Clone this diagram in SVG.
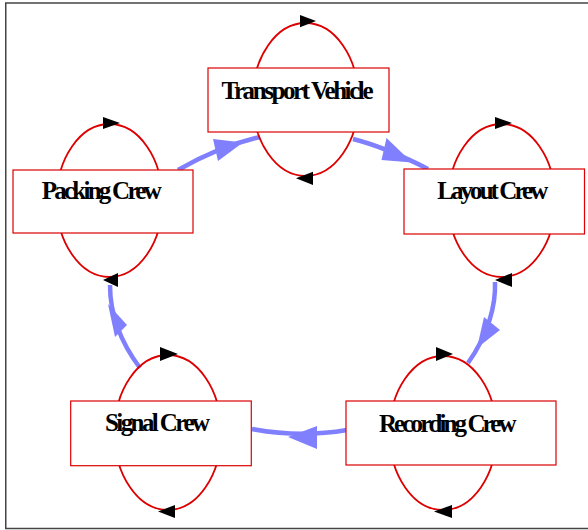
<svg xmlns="http://www.w3.org/2000/svg" width="588" height="530" viewBox="0 0 588 530">
<style>
.edge{fill:none;stroke:#8080ff;stroke-width:4.5}
.ah{fill:#8080ff;stroke:none}
.loop{fill:none;stroke:#dd0000;stroke-width:1.8}
.la{fill:#000;stroke:none}
.box{fill:#fff;stroke:#dd0000;stroke-width:1.2}
.lbl{font-family:"Liberation Serif","Times New Roman",serif;font-weight:bold;font-size:25px;fill:#000;text-anchor:middle}
</style>
<rect x="5.75" y="3" width="600" height="525.5" fill="#fff" stroke="#444" stroke-width="1.5"/>
<g id="connectors">
  <path class="edge" d="M178,170 Q220,146 260,137"/>
  <polygon class="ah" points="213,139 218,161 243,142.5"/>
  <path class="edge" d="M353,139 Q385,147 428,169"/>
  <polygon class="ah" points="386.5,138 381.5,160 412,162.5"/>
  <path class="edge" d="M495,282 C496,305 488,335 468,363"/>
  <polygon class="ah" points="484,317 500,330 477,348"/>
  <path class="edge" d="M347,430 Q300,438 252,429"/>
  <polygon class="ah" points="317,426 317,449 288,437"/>
  <path class="edge" d="M140,368 C125,348 110,320 110,285"/>
  <polygon class="ah" points="115,337 127,325 108,304"/>

  <ellipse class="loop" cx="305.5" cy="99.5" rx="53" ry="76.5"/>
  <polygon class="la" points="300,15 316,21 300,27.3"/>
  <polygon class="la" points="313,171.7 296,178.3 313,185"/>

  <ellipse class="loop" cx="109.5" cy="200.5" rx="53" ry="76.5"/>
  <polygon class="la" points="103,117 120,123 103,129"/>
  <polygon class="la" points="118,273 103,280 118,287"/>

  <ellipse class="loop" cx="501.7" cy="200.5" rx="53.5" ry="76.5"/>
  <polygon class="la" points="495,117 512,123 495,129"/>
  <polygon class="la" points="512,273 495,280 512,287"/>

  <ellipse class="loop" cx="443" cy="433" rx="53.5" ry="77"/>
  <polygon class="la" points="436,347 453,354 436,361"/>
  <polygon class="la" points="452,505 434,511.5 452,518"/>

  <ellipse class="loop" cx="167.8" cy="432.5" rx="53.4" ry="77.5"/>
  <polygon class="la" points="160,347 178,354 160,361"/>
  <polygon class="la" points="175,505 158,511.5 175,518"/>
</g>
<g id="transport-vehicle">
  <rect class="box" x="208" y="68" width="181" height="64"/>
  <text class="lbl" x="297.5" y="99.3" textLength="152" lengthAdjust="spacing">Transport Vehicle</text>
</g>
<g id="packing-crew">
  <rect class="box" x="13" y="170" width="180" height="63"/>
  <text class="lbl" x="101.7" y="199.3" textLength="120" lengthAdjust="spacing">Packing Crew</text>
</g>
<g id="layout-crew">
  <rect class="box" x="404" y="169" width="180.5" height="65"/>
  <text class="lbl" x="492.8" y="199.3" textLength="111" lengthAdjust="spacing">Layout Crew</text>
</g>
<g id="recording-crew">
  <rect class="box" x="346" y="401" width="210" height="64"/>
  <text class="lbl" x="447.8" y="431.7" textLength="137.7" lengthAdjust="spacing">Recording Crew</text>
</g>
<g id="signal-crew">
  <rect class="box" x="70.7" y="401" width="180.6" height="64.7"/>
  <text class="lbl" x="157.5" y="431" textLength="105" lengthAdjust="spacing">Signal Crew</text>
</g>
</svg>
